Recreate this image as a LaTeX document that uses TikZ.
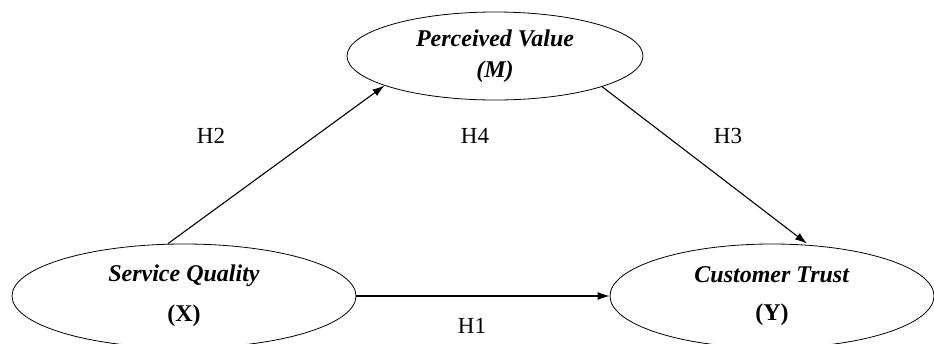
\documentclass[tikz,border=0pt]{standalone}
\usepackage{fontspec}
\setmainfont{Liberation Serif}
\usetikzlibrary{shapes.geometric,arrows.meta}
\begin{document}
\begin{tikzpicture}[x=1pt,y=-1pt,
  construct/.style={draw=black, line width=0.8pt, ellipse, inner sep=0pt, align=center,
    font=\fontsize{24}{28}\selectfont},
  path/.style={draw=black, line width=1.1pt, -{Latex[length=12pt,width=8pt]}},
  hyp/.style={font=\fontsize{23}{26}\selectfont}]
\useasboundingbox (0,0) rectangle (934,343);
\node[construct, minimum width=296pt, minimum height=88pt] (PV) at (495,56)
  {\textbf{\textit{Perceived Value}}\\[3pt]\textbf{\textit{(M)}}};
\node[construct, minimum width=344pt, minimum height=104pt] (SQ) at (184,296)
  {\textbf{\textit{Service Quality}}\\[12pt]\textbf{(X)}};
\node[construct, minimum width=324pt, minimum height=104pt] (CT) at (772,296)
  {\textbf{\textit{Customer Trust}}\\[10pt]\textbf{(Y)}};
\draw[path] ([xshift=-16pt]SQ.north) -- (PV.195);
\draw[path] (PV.344) -- ([xshift=35pt]CT.north);
\draw[path] (SQ.east) -- (CT.west);
\node[hyp] (h2) at (211,136) {H2};
\node[hyp] (h4) at (475,136) {H4};
\node[hyp] (h3) at (728,136) {H3};
\node[hyp] (h1) at (472,326) {H1};
\end{tikzpicture}
\end{document}
